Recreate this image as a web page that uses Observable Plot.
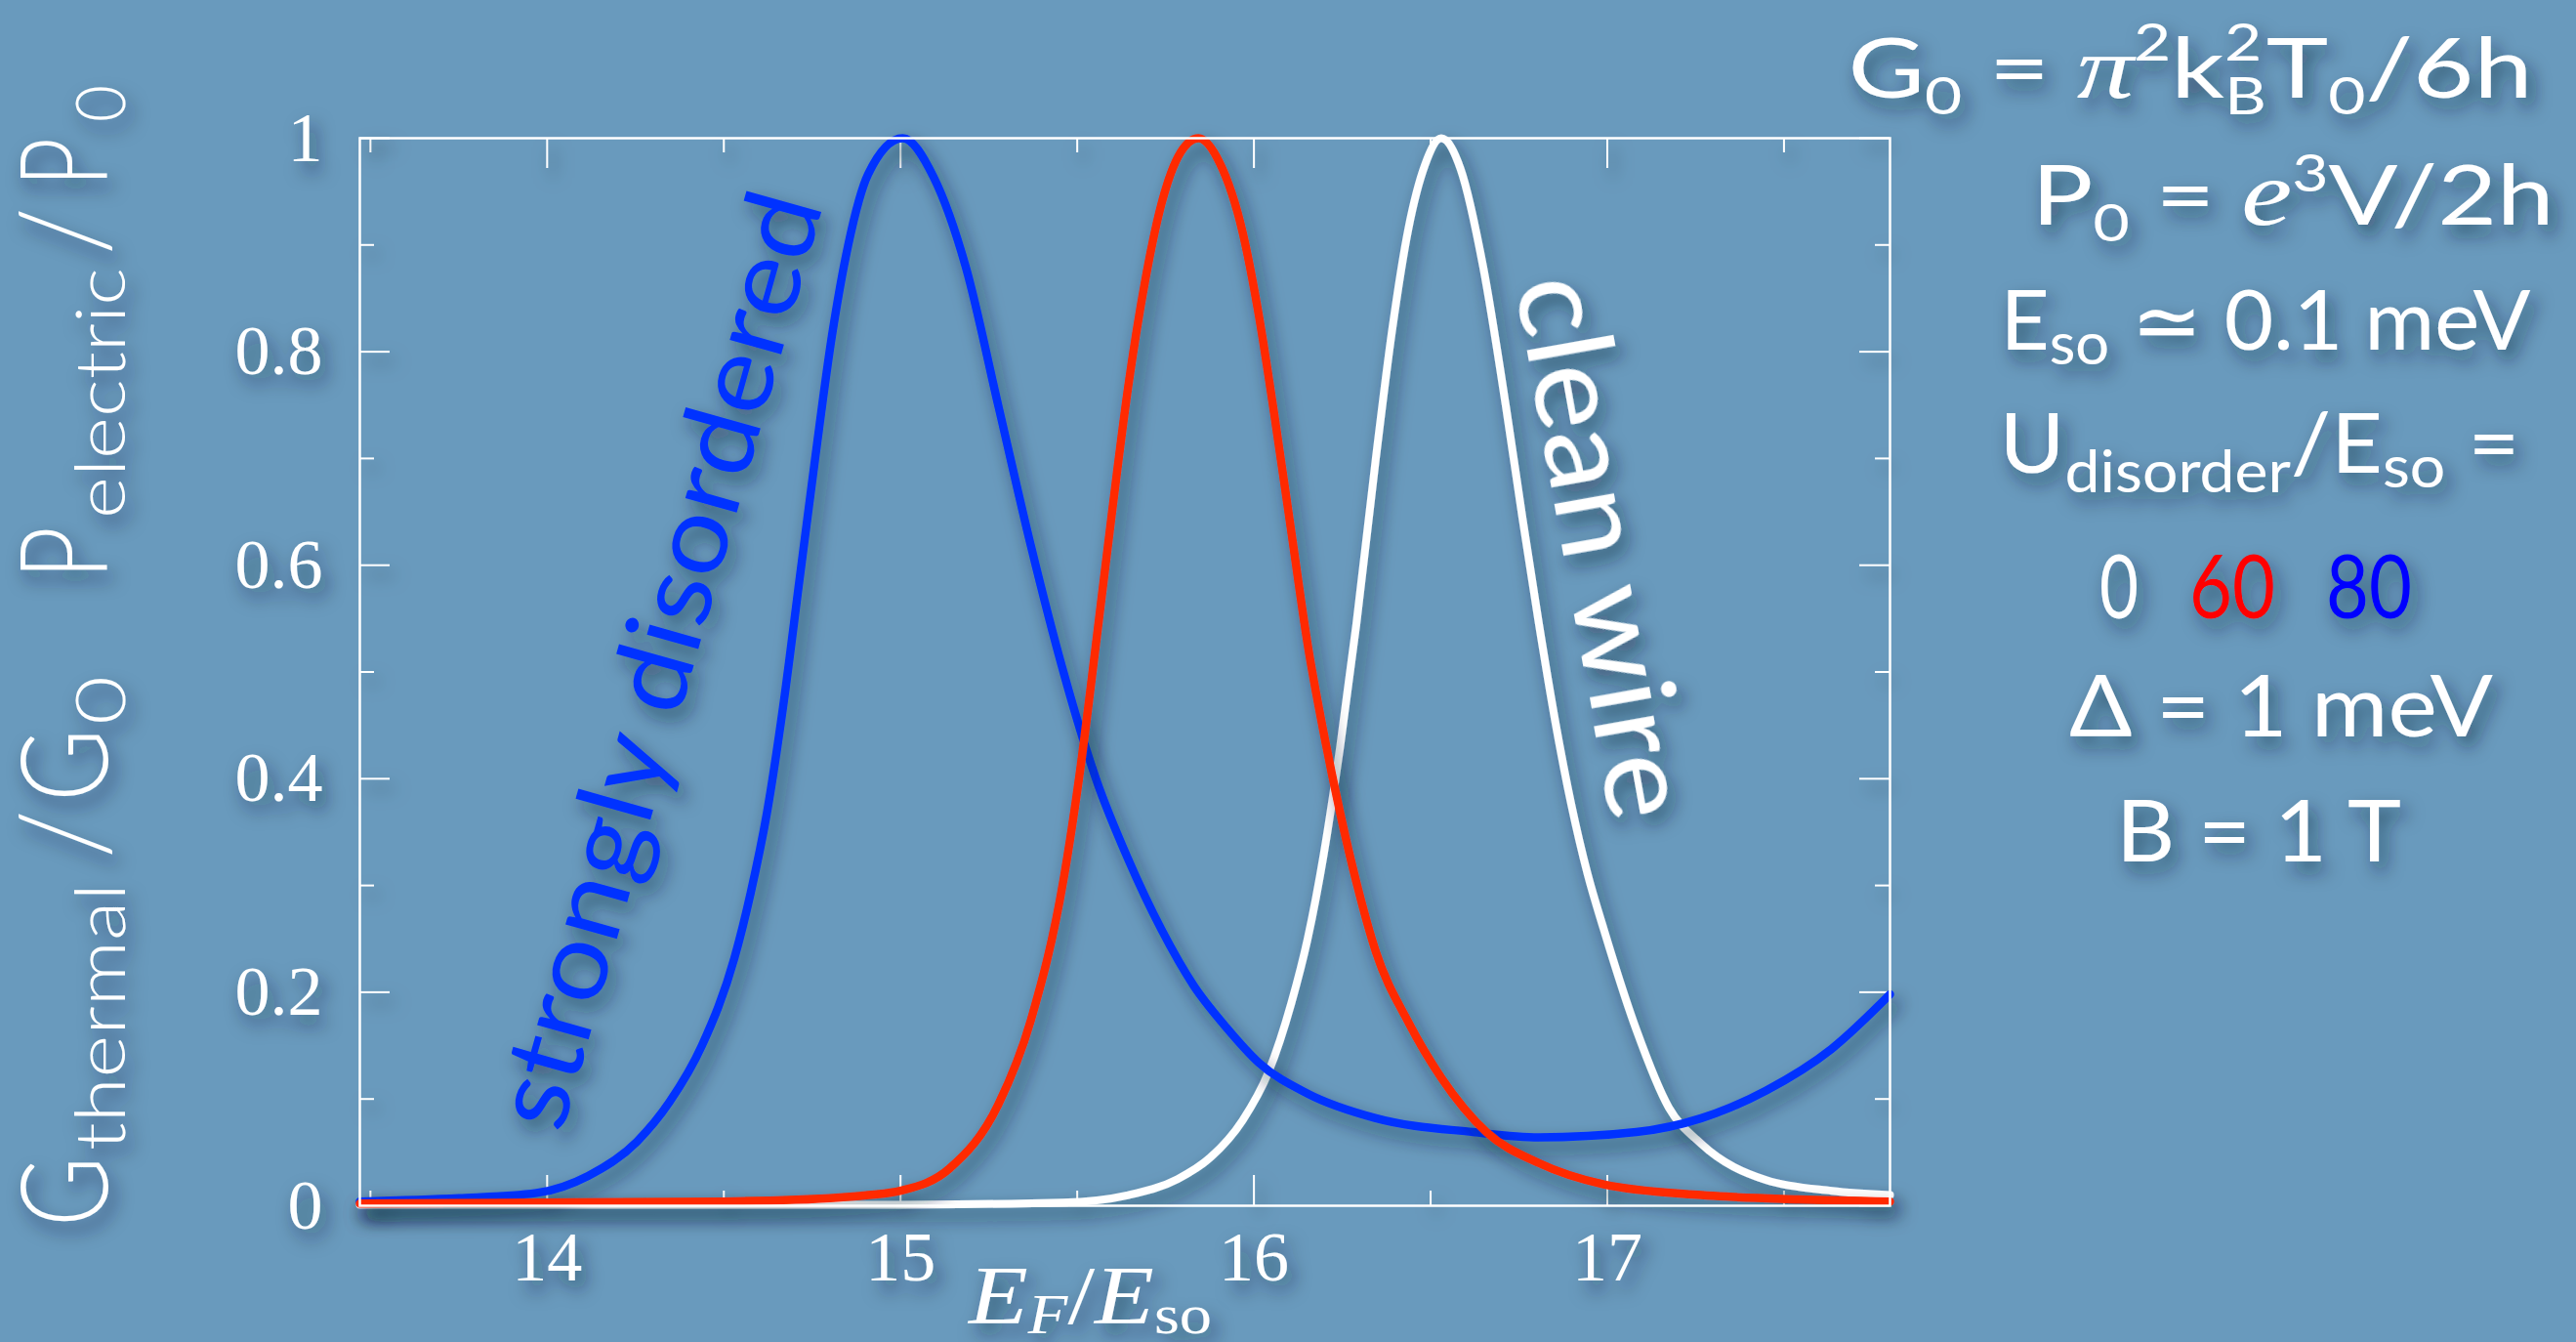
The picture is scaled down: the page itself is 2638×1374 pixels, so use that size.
<!DOCTYPE html>
<html>
<head>
<meta charset="utf-8">
<script src="https://cdn.jsdelivr.net/npm/d3@7"></script>
<script src="https://cdn.jsdelivr.net/npm/@observablehq/plot@0.6"></script>
<style>
  html, body { margin: 0; padding: 0; background: #699abd; overflow: hidden; }
  #chart svg { display: block; }
</style>
</head>
<body>
<div id="chart"></div>
<script>
// ---------- data ----------
const xDomain = [13.47, 17.8];
const yDomain = [0, 1];
const xMajor = [14, 15, 16, 17];
const xMinor = [13.5, 14.5, 15.5, 16.5, 17.5];
const yMajor = [0, 0.2, 0.4, 0.6, 0.8, 1];
const yMinor = [0.1, 0.3, 0.5, 0.7, 0.9];
const xTickLabels = ["14", "15", "16", "17"];
const yTickLabels = ["0", "0.2", "0.4", "0.6", "0.8", "1"];

// U_disorder / E_so = 0 (clean wire, white)
const efU0 = [13.47, 15.0, 15.46, 15.645, 15.784, 15.876, 15.968, 16.041, 16.106, 16.152, 16.198, 16.244, 16.29, 16.345, 16.391, 16.437, 16.484, 16.53, 16.585, 16.649, 16.713, 16.76, 16.806, 16.852, 16.898, 16.944, 16.99, 17.082, 17.174, 17.266, 17.45, 17.635, 17.8];
const gU0  = [0.001, 0.001, 0.003, 0.010, 0.025, 0.045, 0.080, 0.125, 0.19, 0.25, 0.33, 0.43, 0.545, 0.70, 0.82, 0.915, 0.975, 1.0, 0.971, 0.879, 0.749, 0.644, 0.546, 0.455, 0.376, 0.311, 0.259, 0.165, 0.092, 0.058, 0.024, 0.014, 0.010];

// U_disorder / E_so = 60 (red)
const efU60 = [13.47, 14.0, 14.5, 14.8, 14.909, 15.0, 15.139, 15.277, 15.369, 15.461, 15.507, 15.553, 15.599, 15.645, 15.692, 15.738, 15.793, 15.843, 15.903, 15.968, 16.014, 16.06, 16.106, 16.152, 16.198, 16.244, 16.29, 16.345, 16.437, 16.53, 16.658, 16.806, 16.99, 17.266, 17.54, 17.8];
const gU60  = [0.002, 0.003, 0.004, 0.007, 0.010, 0.014, 0.035, 0.095, 0.174, 0.305, 0.405, 0.526, 0.651, 0.769, 0.866, 0.938, 0.987, 1.0, 0.977, 0.912, 0.834, 0.736, 0.631, 0.526, 0.442, 0.368, 0.303, 0.238, 0.172, 0.12, 0.069, 0.040, 0.020, 0.010, 0.006, 0.004];

// U_disorder / E_so = 80 (strongly disordered, blue)
const efU80 = [13.47, 13.75, 13.97, 14.116, 14.254, 14.346, 14.438, 14.53, 14.576, 14.622, 14.668, 14.714, 14.76, 14.806, 14.852, 14.908, 15.006, 15.093, 15.185, 15.277, 15.369, 15.461, 15.553, 15.645, 15.738, 15.83, 15.922, 16.014, 16.152, 16.345, 16.62, 16.806, 17.082, 17.266, 17.45, 17.635, 17.8];
const gU80  = [0.004, 0.007, 0.012, 0.028, 0.060, 0.097, 0.150, 0.232, 0.293, 0.368, 0.468, 0.586, 0.704, 0.815, 0.900, 0.966, 1.0, 0.964, 0.879, 0.749, 0.618, 0.500, 0.400, 0.324, 0.259, 0.206, 0.167, 0.134, 0.105, 0.082, 0.069, 0.064, 0.069, 0.082, 0.108, 0.147, 0.198];

const seriesColors = {U0: "#ffffff", U60: "#ff2a00", U80: "#0033ff"};

// in-plot annotations (data coordinates of the baseline start)
const annotations = [
  {text: "strongly disordered", x: 14.043, y: 0.066, angle: -74.3, len: 990, size: 108, color: "#0033ff"},
  {text: "clean wire", x: 16.74, y: 0.864, angle: 79.9, len: 563, size: 122, color: "#ffffff"}
];

// ---------- layout ----------
const W = 2638, H = 1374;
const M = {left: 368, right: 703, top: 141, bottom: 140};
const FW = W - M.left - M.right, FH = H - M.top - M.bottom;
const SANS = "Lato, 'Open Sans', 'DejaVu Sans', sans-serif";
const SERIF = "'Liberation Serif', 'DejaVu Serif', serif";

const rows = (xs, ys) => xs.map((x, i) => ({x, y: ys[i]}));

const tickStyle = {stroke: "white", strokeWidth: 2};
const chart = Plot.plot({
  width: W, height: H,
  marginLeft: M.left, marginRight: M.right, marginTop: M.top, marginBottom: M.bottom,
  x: {domain: xDomain, axis: null},
  y: {domain: yDomain, axis: null},
  style: {background: "none", overflow: "visible"},
  marks: [
    // inward ticks on all four sides
    Plot.tickX(xMajor, {x: d => d, ...tickStyle, insetTop: FH - 31}),
    Plot.tickX(xMinor, {x: d => d, ...tickStyle, insetTop: FH - 15}),
    Plot.tickX(xMajor, {x: d => d, ...tickStyle, insetBottom: FH - 31}),
    Plot.tickX(xMinor, {x: d => d, ...tickStyle, insetBottom: FH - 15}),
    Plot.tickY(yMajor, {y: d => d, ...tickStyle, insetRight: FW - 31}),
    Plot.tickY(yMinor, {y: d => d, ...tickStyle, insetRight: FW - 15}),
    Plot.tickY(yMajor, {y: d => d, ...tickStyle, insetLeft: FW - 31}),
    Plot.tickY(yMinor, {y: d => d, ...tickStyle, insetLeft: FW - 15}),
    // curves
    Plot.line(rows(efU0, gU0), {x: "x", y: "y", stroke: seriesColors.U0, strokeWidth: 8, curve: "monotone-x"}),
    Plot.line(rows(efU80, gU80), {x: "x", y: "y", stroke: seriesColors.U80, strokeWidth: 8.5, curve: "monotone-x"}),
    Plot.line(rows(efU60, gU60), {x: "x", y: "y", stroke: seriesColors.U60, strokeWidth: 8.5, curve: "monotone-x"}),
    Plot.frame({stroke: "white", strokeWidth: 2.5}),
    // tick labels
    Plot.text(xMajor, {x: d => d, text: (d, i) => xTickLabels[i], frameAnchor: "bottom", dy: 76, lineAnchor: "bottom",
      fill: "white", fontSize: 72, fontFamily: SERIF}),
    Plot.text(yMajor, {y: d => d, text: (d, i) => yTickLabels[i], frameAnchor: "left", dx: -38, textAnchor: "end",
      lineAnchor: "middle", fill: "white", fontSize: 72, fontFamily: SERIF})
  ]
});
document.getElementById("chart").appendChild(chart);

// ---------- shadows ----------
const svg = d3.select(chart);
const defs = svg.insert("defs", ":first-child");
const flt = defs.append("filter").attr("id", "sh").attr("filterUnits", "userSpaceOnUse")
  .attr("x", -4000).attr("y", -4000).attr("width", 10000).attr("height", 10000);
flt.append("feDropShadow").attr("dx", 6).attr("dy", 10).attr("stdDeviation", 9)
  .attr("flood-color", "#0a1f33").attr("flood-opacity", 0.6);
svg.selectAll(":scope > g").attr("filter", "url(#sh)");

const xs = chart.scale("x"), ys = chart.scale("y");
const G = svg.append("g").attr("filter", "url(#sh)").attr("text-anchor", "start");

function txt(parent, x, y, parts, o) {
  const t = parent.append("text").attr("x", x).attr("y", y)
    .attr("text-anchor", o.anchor || "start")
    .attr("font-family", o.family || SANS).attr("font-size", o.size)
    .attr("font-weight", o.weight || 400)
    .attr("fill", o.fill || "white").style("white-space", "pre");
  if (o.length) t.attr("textLength", o.length).attr("lengthAdjust", o.adjust || "spacingAndGlyphs");
  if (o.transform) t.attr("transform", o.transform);
  let cur = 0;
  for (const p of parts) {
    const s = t.append("tspan").text(p.t);
    const off = p.off || 0;
    if (off !== cur) { s.attr("dy", off - cur); cur = off; }
    if (p.dx) s.attr("dx", p.dx);
    if (p.size) s.attr("font-size", p.size);
    if (p.family) s.attr("font-family", p.family);
    if (p.italic) s.attr("font-style", "italic");
    if (p.fill) s.attr("fill", p.fill);
  }
  return t;
}

// annotations inside the plot
for (const a of annotations) {
  const px = xs.apply(a.x), py = ys.apply(a.y);
  G.append("text").attr("transform", `translate(${px},${py}) rotate(${a.angle})`)
    .attr("text-anchor", "start")
    .attr("font-family", SANS).attr("font-size", a.size).attr("fill", a.color)
    .attr("textLength", a.len).attr("lengthAdjust", "spacingAndGlyphs")
    .text(a.text);
}

// x-axis label E_F / E_so
txt(G, 992, 1355, [
  {t: "E", italic: true}, {t: "F", italic: true, size: 56, off: 10},
  {t: "/"}, {t: "E", italic: true}, {t: "so", size: 56, off: 10}
], {family: SERIF, size: 84, length: 249, adjust: "spacingAndGlyphs"});

// y-axis label (rotated)
const yl = G.append("g").attr("transform", "translate(110,1256) rotate(-90)");
const yPieces = [
  {t: "G", x: 0, len: 72, size: 125, off: 0},
  {t: "thermal", x: 78, len: 274, size: 70, off: 18},
  {t: "/", x: 377, len: 50, size: 125, off: 0},
  {t: "G", x: 435, len: 75, size: 125, off: 0},
  {t: "0", x: 514, len: 50, size: 70, off: 18},
  {t: "P", x: 663, len: 54, size: 125, off: 0},
  {t: "electric", x: 725, len: 257, size: 70, off: 18},
  {t: "/", x: 995, len: 49, size: 125, off: 0},
  {t: "P", x: 1065, len: 50, size: 125, off: 0},
  {t: "0", x: 1131, len: 38, size: 70, off: 18}
];
for (const p of yPieces) {
  yl.append("text").attr("x", p.x).attr("y", p.off).attr("text-anchor", "start")
    .attr("font-family", SANS).attr("font-size", p.size).attr("font-weight", 300).attr("fill", "white")
    .attr("textLength", p.len).attr("lengthAdjust", "spacingAndGlyphs").text(p.t);
}

// right-hand parameter panel
txt(G, 2243, 100, [
  {t: "G"}, {t: "0", size: 52, off: 17}, {t: " = "},
  {t: "π", family: SERIF, italic: true, size: 92}, {t: "2", size: 52, off: -38},
  {t: "k"}, {t: "2", size: 52, off: -38}, {t: "B", size: 52, off: 17, dx: -30},
  {t: "T"}, {t: "0", size: 52, off: 17}, {t: "/6h"}
], {anchor: "middle", size: 85, length: 701});
txt(G, 2348, 230, [
  {t: "P"}, {t: "0", size: 52, off: 17}, {t: " = "},
  {t: "e", family: SERIF, italic: true, size: 95}, {t: "3", size: 52, off: -34}, {t: "V/2h"}
], {anchor: "middle", size: 85, length: 535});
txt(G, 2320, 358, [
  {t: "E"}, {t: "so", size: 60, off: 15}, {t: " ≃ 0.1 meV"}
], {anchor: "middle", size: 85, length: 543});
txt(G, 2314, 484, [
  {t: "U"}, {t: "disorder", size: 60, off: 20}, {t: "/E"}, {t: "so", size: 60, off: 15}, {t: " ="}
], {anchor: "middle", size: 85, length: 533});
txt(G, 2170, 633, [{t: "0"}], {anchor: "middle", size: 92, length: 40});
txt(G, 2286, 633, [{t: "60"}], {anchor: "middle", size: 92, length: 88, fill: "#ff0000"});
txt(G, 2426, 633, [{t: "80"}], {anchor: "middle", size: 92, length: 88, fill: "#0000ff"});
txt(G, 2336, 754, [{t: "Δ = 1 meV"}], {anchor: "middle", size: 88, length: 434});
txt(G, 2313, 882, [{t: "B = 1 T"}], {anchor: "middle", size: 88, length: 292});
</script>
</body>
</html>
